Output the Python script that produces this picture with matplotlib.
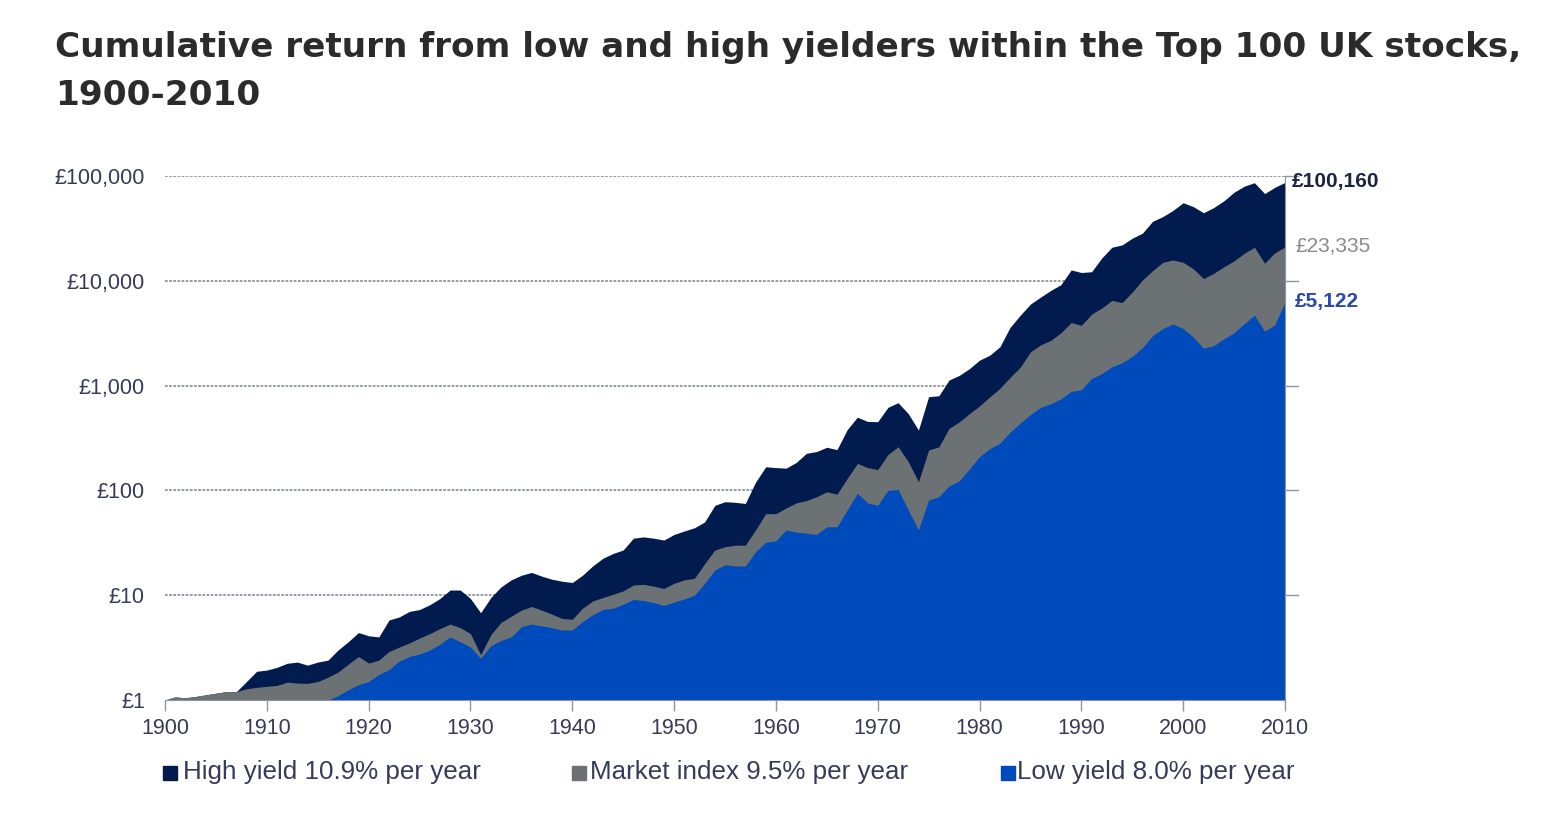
import numpy as np
import matplotlib
matplotlib.use("Agg")
from matplotlib import pyplot as plt
from matplotlib.patches import Rectangle

# cumulative value of £1 invested in 1900 (log scale)
years = list(range(1900, 2011))

high_yield = [
    1.0, 1.07, 1.05, 1.08, 1.12, 1.16, 1.2, 1.2, 1.5, 1.88,        # 1900-09
    1.93, 2.05, 2.24, 2.3, 2.15, 2.3, 2.4, 3.0, 3.6, 4.4,          # 1910-19
    4.1, 4.0, 5.8, 6.2, 7.0, 7.3, 8.1, 9.3, 11.2, 11.2,            # 1920-29
    9.3, 6.8, 9.5, 12.0, 14.0, 15.5, 16.5, 15.2, 14.2, 13.6,       # 1930-39
    13.2, 15.5, 19, 22.5, 25, 27, 35, 36, 35, 33.6,                # 1940-49
    38, 41, 44, 50, 72, 78, 77, 75, 120, 168,                      # 1950-59
    165, 163, 185, 226, 235, 258, 245, 380, 500, 455,              # 1960-69
    453, 620, 687, 540, 377, 784, 800, 1130, 1250, 1450,           # 1970-79
    1750, 1950, 2350, 3600, 4700, 6000, 7000, 8100, 9200, 12700,   # 1980-89
    12000, 12200, 16500, 20900, 22000, 25500, 28500, 37000, 41000, 47000,  # 1990-99
    55600, 51000, 44600, 50000, 58000, 70000, 80000, 86300, 68000, 78000,  # 2000-09
    87000,
]

market_index = [
    1.0, 1.07, 1.05, 1.08, 1.12, 1.16, 1.2, 1.2, 1.28, 1.32,
    1.35, 1.38, 1.48, 1.45, 1.44, 1.5, 1.65, 1.85, 2.2, 2.6,
    2.25, 2.4, 2.9, 3.2, 3.5, 3.9, 4.3, 4.8, 5.3, 4.9,
    4.3, 2.7, 4.2, 5.5, 6.3, 7.2, 7.8, 7.2, 6.6, 6.0,
    5.9, 7.5, 8.8, 9.5, 10.2, 11.0, 12.5, 12.7, 12.2, 11.6,
    13.0, 14.0, 14.5, 20, 27, 29, 30, 30, 42, 60,
    60, 68, 76, 80, 87, 97, 92, 130, 181, 165,
    158, 220, 261, 188, 121, 243, 260, 390, 450, 540,
    640, 780, 943, 1200, 1500, 2100, 2450, 2700, 3200, 4000,
    3760, 4800, 5500, 6500, 6200, 7800, 10200, 12500, 15000, 15800,
    15000, 13000, 10500, 11800, 13600, 15500, 18300, 20900, 14700, 18500,
    21000,
]

low_yield = [
    1.0, 1.0, 1.0, 1.0, 1.0, 1.0, 1.0, 1.0, 1.0, 1.0,
    1.0, 1.0, 1.0, 1.0, 1.0, 1.0, 1.0, 1.1, 1.25, 1.4,
    1.5, 1.75, 1.95, 2.35, 2.6, 2.75, 3.0, 3.4, 4.0, 3.6,
    3.2, 2.5, 3.3, 3.7, 4.0, 5.0, 5.3, 5.1, 4.9, 4.65,
    4.65, 5.6, 6.5, 7.3, 7.5, 8.2, 9.1, 8.9, 8.5, 8.0,
    8.6, 9.2, 10.0, 13, 17.4, 19.5, 19, 19, 26, 32,
    33, 42, 40, 39, 38, 45, 45, 65, 94, 76,
    72, 100, 102, 65, 42, 81, 87, 110, 123, 160,
    210, 250, 282, 360, 440, 530, 620, 670, 750, 880,
    910, 1170, 1300, 1510, 1650, 1900, 2300, 3000, 3500, 3870,
    3500, 2900, 2270, 2400, 2800, 3200, 3900, 4700, 3300, 3800,
    6300,
]

series_names = ["High yield 10.9% per year", "Market index 9.5% per year", "Low yield 8.0% per year"]
end_labels = ["£100,160", "£23,335", "£5,122"]
y_ticks = [1, 10, 100, 1000, 10000, 100000]
y_tick_labels = ["£1", "£10", "£100", "£1,000", "£10,000", "£100,000"]
x_ticks = list(range(1900, 2011, 10))

NAVY = "#021b4e"
GREY = "#6c7174"
BLUE = "#004bbb"
AXIS = "#8d93a5"
TEXT = "#353b58"

W, H = 1568, 832
fig = plt.figure(figsize=(W / 100, H / 100), dpi=100)
ax = fig.add_axes([165 / W, 1 - 700 / H, 1120 / W, 524 / H])

ax.fill_between(years, 1, high_yield, color=NAVY, lw=0)
ax.fill_between(years, 1, market_index, color=GREY, lw=0)
ax.fill_between(years, 1, low_yield, color=BLUE, lw=0)

ax.set_yscale("log")
ax.set_xlim(1900, 2010)
ax.set_ylim(1, 100000)

ax.set_yticks(y_ticks)
ax.set_yticklabels(y_tick_labels, family="Liberation Sans")
ax.yaxis.set_minor_locator(matplotlib.ticker.NullLocator())
ax.tick_params(axis="y", length=0, pad=14.5, labelsize=15.5, labelcolor=TEXT)
for t in y_ticks[1:]:
    ax.axhline(t, color=AXIS, lw=1.3, ls=(0, (1.5, 0.8)), zorder=0)
    ax.plot([1, 1.012], [t, t], transform=ax.get_yaxis_transform(),
            color=AXIS, lw=1, clip_on=False)

ax.set_xticks(x_ticks)
ax.set_xticklabels([str(x) for x in x_ticks], family="Liberation Sans")
ax.tick_params(axis="x", length=8, width=1, color=AXIS, pad=5,
               labelsize=15.5, labelcolor=TEXT)

for s in ["top", "left"]:
    ax.spines[s].set_visible(False)
ax.spines["bottom"].set_color(AXIS)
ax.spines["right"].set_color(AXIS)


def row_to_value(py):
    # pixel row in the figure -> value on the log axis
    return 10 ** ((700 - py) / 104.8)


# values at the end of the period
yt = ax.get_yaxis_transform()
ax.text(1.006, row_to_value(181), end_labels[0], transform=yt, fontsize=15,
        fontweight="bold", color="#1c2440", va="center", family="Liberation Sans")
ax.text(1.009, row_to_value(246), end_labels[1], transform=yt, fontsize=15,
        color="#8a8a8a", va="center", family="Liberation Sans")
ax.text(1.009, row_to_value(302), end_labels[2], transform=yt, fontsize=15,
        fontweight="bold", color="#2a48b0", va="center", family="Liberation Sans")

# legend
leg_box = [163, 572, 1001]
leg_txt = [183, 590, 1017]
for bx, tx, name, col in zip(leg_box, leg_txt, series_names, [NAVY, GREY, BLUE]):
    fig.patches.append(Rectangle((bx / W, 1 - 780 / H), 14 / W, 14 / H,
                                 transform=fig.transFigure, color=col))
    fig.text(tx / W, 1 - 772 / H, name, color=TEXT, fontsize=18.7,
             va="center", family="Liberation Sans")

# title, sized so that the first line spans the same width as the original
t1 = fig.text(55 / W, 1 - 57 / H,
              "Cumulative return from low and high yielders within the Top 100 UK stocks,",
              fontsize=28, fontweight="bold", color="#2b2b2b", family="DejaVu Sans",
              va="baseline")
t2 = fig.text(55 / W, 1 - 105 / H, "1900-2010",
              fontsize=28, fontweight="bold", color="#2b2b2b", family="DejaVu Sans",
              va="baseline")
fig.canvas.draw()
w = t1.get_window_extent().width
size = 28 * 1463 / w
t1.set_fontsize(size)
t2.set_fontsize(size)

fig.savefig("out.png", dpi=100)
